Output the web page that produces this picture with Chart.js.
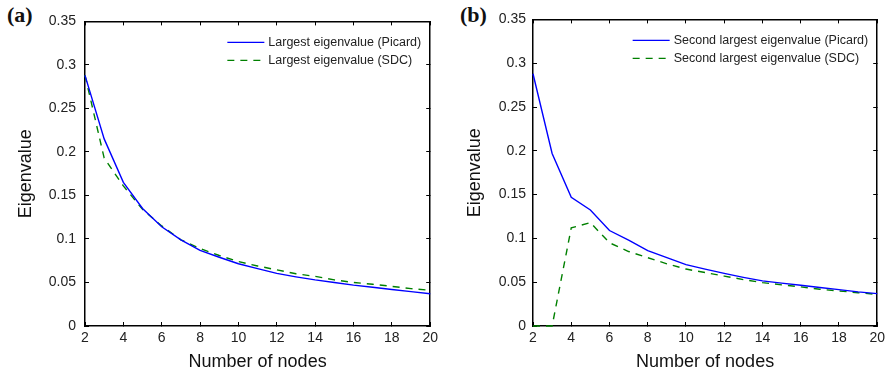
<!DOCTYPE html>
<html>
<head>
<meta charset="utf-8">
<script src="https://cdn.jsdelivr.net/npm/chart.js@4/dist/chart.umd.min.js"></script>
<style>
  body { margin: 0; background: #fff; width: 893px; height: 375px; position: relative; overflow: hidden; }
  canvas { position: absolute; top: 0; }
  .tag { position: absolute; top: 2px; font: bold 22px "Liberation Serif", "Times New Roman", serif; color: #111; }
</style>
</head>
<body>
<div class="tag" style="left:7px">(a)</div>
<div class="tag" style="left:460px">(b)</div>
<canvas id="chartA" width="446" height="375" style="left:0"></canvas>
<canvas id="chartB" width="447" height="375" style="left:446px"></canvas>
<script>
// number of nodes on the x axis
let nodes = [2, 3, 4, 5, 6, 7, 8, 9, 10, 11, 12, 13, 14, 15, 16, 17, 18, 19, 20];

// (a) largest eigenvalue
let largestPicard = [0.288, 0.215, 0.165, 0.135, 0.114, 0.099, 0.087, 0.079, 0.0715, 0.066,
                     0.0605, 0.0565, 0.053, 0.050, 0.047, 0.0445, 0.042, 0.0395, 0.037];
let largestSDC    = [0.288, 0.193, 0.161, 0.134, 0.115, 0.099, 0.089, 0.081, 0.074, 0.069,
                     0.0645, 0.060, 0.057, 0.053, 0.050, 0.048, 0.0455, 0.043, 0.041];

// (b) second largest eigenvalue
let secondPicard = [0.288, 0.197, 0.147, 0.1325, 0.109, 0.098, 0.086, 0.078, 0.070, 0.065,
                    0.060, 0.0555, 0.0515, 0.049, 0.0465, 0.044, 0.0415, 0.039, 0.037];
let secondSDC    = [0, 0, 0.112, 0.118, 0.095, 0.085, 0.078, 0.071, 0.065, 0.061,
                    0.057, 0.053, 0.0495, 0.047, 0.0447, 0.042, 0.040, 0.038, 0.036];

let xTicks = [2, 4, 6, 8, 10, 12, 14, 16, 18, 20];
let yTicks = [0, 0.05, 0.1, 0.15, 0.2, 0.25, 0.3, 0.35];

Chart.defaults.font.family = '"Liberation Sans", Arial, Helvetica, sans-serif';
Chart.defaults.color = '#222';

// legend drawn inside the plot, top right
const insideLegend = {
    id: 'insideLegend',
    afterDatasetsDraw(chart) {
        const { ctx, chartArea } = chart;
        ctx.save();
        ctx.font = '12.5px "Liberation Sans", Arial, sans-serif';
        let widths = chart.data.datasets.map(d => ctx.measureText(d.label).width);
        let textX = chartArea.right - 9 - Math.max(...widths);
        chart.data.datasets.forEach((d, i) => {
            let y = chartArea.top + 21 + i * 18;
            ctx.strokeStyle = d.borderColor;
            ctx.lineWidth = d.borderWidth;
            ctx.setLineDash(d.borderDash || []);
            ctx.beginPath();
            ctx.moveTo(textX - 41, y);
            ctx.lineTo(textX - 4, y);
            ctx.stroke();
            ctx.setLineDash([]);
            ctx.fillStyle = '#222';
            ctx.textBaseline = 'middle';
            ctx.fillText(d.label, textX, y);
        });
        ctx.restore();
    }
};

function toPoints(values) {
    return nodes.map((n, i) => ({ x: n, y: values[i] }));
}

function makeChart(id, labels, picard, sdc, lay) {
    const tickFont = { size: 14 };
    const frame = { color: '#000', width: 1.5 };
    const gridOpts = { drawOnChartArea: false, tickLength: -4, color: '#000', lineWidth: 1 };

    new Chart(document.getElementById(id), {
        type: 'line',
        data: {
            datasets: [
                {
                    label: labels[0],
                    data: toPoints(picard),
                    borderColor: '#0000ff',
                    borderWidth: 1.4,
                    pointRadius: 0,
                    tension: 0,
                    clip: 3,
                    xAxisID: 'x', yAxisID: 'y'
                },
                {
                    label: labels[1],
                    data: toPoints(sdc),
                    borderColor: '#008000',
                    borderWidth: 1.4,
                    borderDash: [7, 6],
                    pointRadius: 0,
                    tension: 0,
                    clip: 3,
                    xAxisID: 'x', yAxisID: 'y'
                }
            ]
        },
        options: {
            responsive: false,
            animation: false,
            devicePixelRatio: 1,
            layout: { padding: { left: 0, right: lay.right, top: 19, bottom: 0 } },
            plugins: { legend: { display: false }, tooltip: { enabled: false } },
            scales: {
                x: {
                    type: 'linear', position: 'bottom', min: 2, max: 20,
                    afterBuildTicks: s => { s.ticks = xTicks.map(v => ({ value: v })); },
                    ticks: { font: tickFont, padding: 8, maxRotation: 0, autoSkip: false },
                    grid: gridOpts,
                    border: frame,
                    title: { display: true, text: 'Number of nodes', font: { size: 18 }, color: '#111', padding: { top: 0, bottom: 2 } },
                    afterFit: s => { s.height = 49; }
                },
                x2: {
                    type: 'linear', position: 'top', min: 2, max: 20,
                    afterBuildTicks: s => { s.ticks = xTicks.map(v => ({ value: v })); },
                    ticks: { display: false },
                    grid: gridOpts,
                    border: frame,
                    afterFit: s => { s.height = 0; }
                },
                y: {
                    type: 'linear', position: 'left', min: 0, max: 0.35,
                    afterBuildTicks: s => { s.ticks = yTicks.map(v => ({ value: v })); },
                    ticks: { font: tickFont, padding: lay.tickPad, callback: v => String(+v.toFixed(2)) },
                    grid: gridOpts,
                    border: frame,
                    title: { display: true, text: 'Eigenvalue', font: { size: 18 }, color: '#111', padding: { top: lay.titlePad, bottom: 0 } },
                    afterFit: s => { s.width = lay.left; }
                },
                y2: {
                    type: 'linear', position: 'right', min: 0, max: 0.35,
                    afterBuildTicks: s => { s.ticks = yTicks.map(v => ({ value: v })); },
                    ticks: { display: false },
                    grid: gridOpts,
                    border: frame,
                    afterFit: s => { s.width = 0; }
                }
            }
        },
        plugins: [insideLegend]
    });
}

makeChart('chartA',
    ['Largest eigenvalue (Picard)', 'Largest eigenvalue (SDC)'],
    largestPicard, largestSDC,
    { left: 85, right: 13, tickPad: 13, titlePad: 15 });

makeChart('chartB',
    ['Second largest eigenvalue (Picard)', 'Second largest eigenvalue (SDC)'],
    secondPicard, secondSDC,
    { left: 87, right: 11, tickPad: 11, titlePad: 18 });
</script>
</body>
</html>
